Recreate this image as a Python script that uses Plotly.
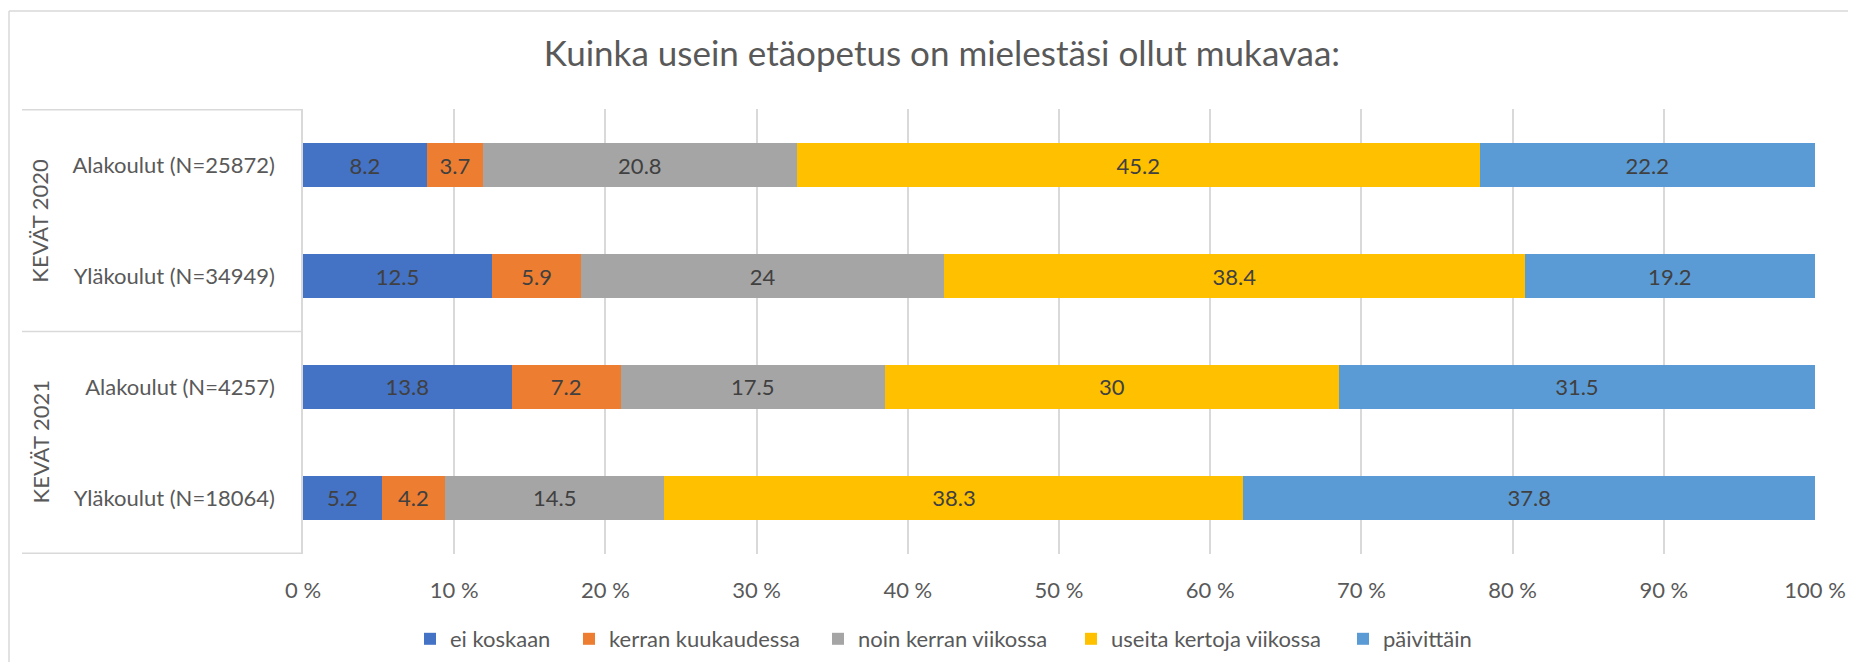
import plotly.graph_objects as go

title = "Kuinka usein etäopetus on mielestäsi ollut mukavaa:"
categories = ["Alakoulut (N=25872)", "Yläkoulut (N=34949)",
              "Alakoulut (N=4257)", "Yläkoulut (N=18064)"]
groups = ["KEVÄT 2020", "KEVÄT 2021"]
group_sizes = [2, 2]

series_names = ["ei koskaan", "kerran kuukaudessa", "noin kerran viikossa",
                "useita kertoja viikossa", "päivittäin"]
ei_koskaan = [8.2, 12.5, 13.8, 5.2]
kerran_kuukaudessa = [3.7, 5.9, 7.2, 4.2]
noin_kerran_viikossa = [20.8, 24, 17.5, 14.5]
useita_kertoja_viikossa = [45.2, 38.4, 30, 38.3]
paivittain = [22.2, 19.2, 31.5, 37.8]
series_values = [ei_koskaan, kerran_kuukaudessa, noin_kerran_viikossa,
                 useita_kertoja_viikossa, paivittain]
colors = ["#4472C4", "#ED7D31", "#A5A5A5", "#FFC000", "#5B9BD5"]

tick_vals = [0, 10, 20, 30, 40, 50, 60, 70, 80, 90, 100]
tick_text = [f"{v} %" for v in tick_vals]

FONT = "Lato"
GREY = "#595959"
LINE = "#D9D9D9"
FS = 22

# page offset caused by the default body margin of the html page
O = 8
W, H = 1856 - 2 * O, 670 - 2 * O
# plot area in page pixels
L, R, T, B = 303 - O, 1815 - O, 109 - O, 554 - O
pw, ph = R - L, B - T


def px_x(page_x):
    return (page_x - O - L) / pw


def px_y(page_y):
    return (B - (page_y - O)) / ph


# left edge (page px) of each legend marker
legend_marker_x = [426, 585, 834, 1087, 1359]
legend_ids = ["legend", "legend2", "legend3", "legend4", "legend5"]

fig = go.Figure()
for name, vals, col, lid in zip(series_names, series_values, colors, legend_ids):
    fig.add_trace(go.Bar(
        y=categories, x=vals, name=name, orientation="h",
        marker=dict(color=col, line=dict(width=0)),
        text=[f"{v:g}" for v in vals], textposition="inside",
        insidetextanchor="middle", textangle=0, constraintext="none",
        textfont=dict(family=FONT, size=FS, color="#404040"),
        hoverinfo="x+y+name", legend=lid,
    ))

shapes = []
bounds = [-0.5]
for s in group_sizes:
    bounds.append(bounds[-1] + s)
for b in bounds:
    shapes.append(dict(type="line", xref="paper", yref="y",
                       x0=px_x(22), x1=0, y0=b, y1=b,
                       line=dict(color=LINE, width=1.5)))
shapes.append(dict(type="line", xref="paper", yref="paper",
                   x0=px_x(9), x1=px_x(1900), y0=px_y(11), y1=px_y(11),
                   line=dict(color=LINE, width=1.5)))
shapes.append(dict(type="line", xref="paper", yref="paper",
                   x0=px_x(9), x1=px_x(9), y0=px_y(11), y1=px_y(700),
                   line=dict(color=LINE, width=1.5)))

annotations = []
start = 0
for g, s in zip(groups, group_sizes):
    mid = start + (s - 1) / 2
    annotations.append(dict(text=g, xref="paper", yref="y", x=px_x(40), y=mid,
                            textangle=-90, showarrow=False,
                            xanchor="center", yanchor="middle",
                            font=dict(family=FONT, size=FS, color=GREY)))
    start += s

legend_layout = {}
for lid, mx in zip(legend_ids, legend_marker_x):
    legend_layout[lid] = dict(
        orientation="h", x=px_x(mx - 16), y=px_y(639),
        xanchor="left", yanchor="middle",
        font=dict(family=FONT, size=FS, color=GREY),
        itemwidth=30, bgcolor="rgba(0,0,0,0)")

fig.update_layout(
    width=W, height=H,
    barmode="stack", barnorm="percent", bargap=0.6,
    plot_bgcolor="white", paper_bgcolor="white",
    margin=dict(l=L, r=W - R, t=T, b=H - B, pad=0, autoexpand=False),
    title=dict(text=title, x=(942 - O) / W, xref="container", xanchor="center",
               y=1 - (54 - O) / H, yref="container", yanchor="middle",
               font=dict(family=FONT, size=35, color=GREY)),
    xaxis=dict(range=[0, 100], tickvals=tick_vals, ticktext=tick_text,
               showgrid=True, gridcolor=LINE, gridwidth=1.5, zeroline=False,
               showline=False, ticks="outside", ticklen=17,
               tickcolor="rgba(0,0,0,0)",
               tickfont=dict(family=FONT, size=FS, color=GREY), fixedrange=True),
    yaxis=dict(autorange="reversed", type="category",
               showline=True, linecolor=LINE, linewidth=1.5,
               ticks="outside", ticklen=22, tickcolor="rgba(0,0,0,0)",
               tickfont=dict(family=FONT, size=FS, color=GREY), fixedrange=True),
    shapes=shapes, annotations=annotations,
    showlegend=True,
    **legend_layout,
)

fig.write_html("out.html")
